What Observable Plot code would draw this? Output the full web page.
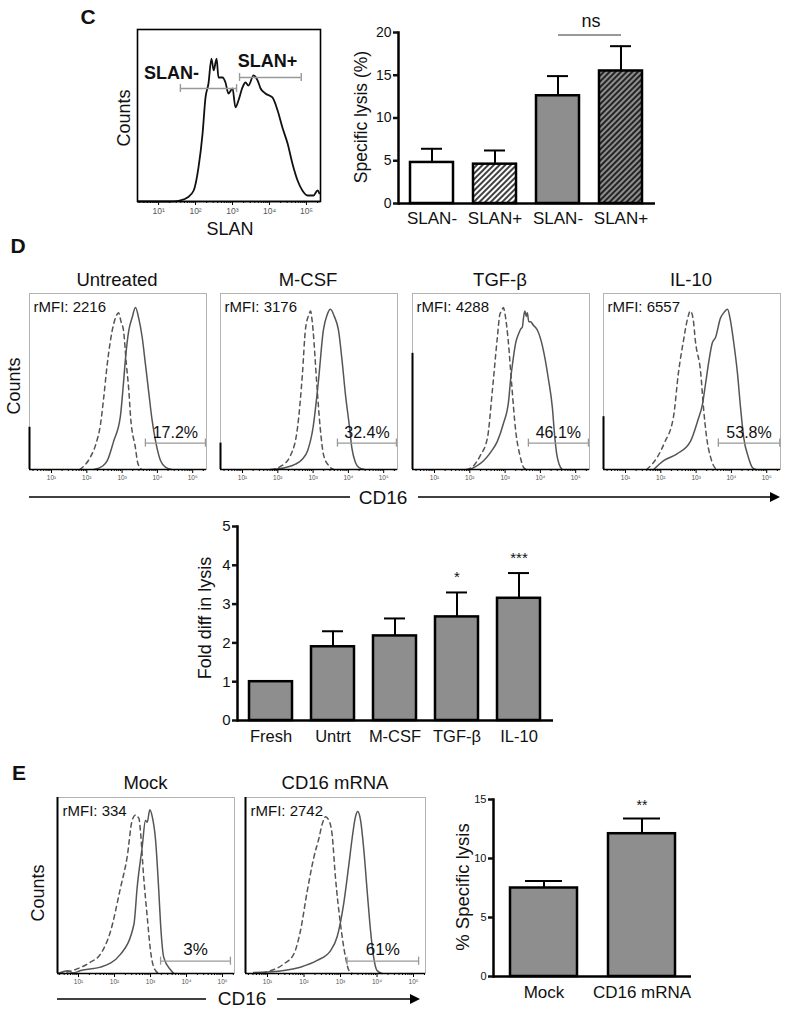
<!DOCTYPE html>
<html><head><meta charset="utf-8">
<script src="https://cdn.jsdelivr.net/npm/d3@7"></script>
<script src="https://cdn.jsdelivr.net/npm/@observablehq/plot@0.6"></script>
<style>
body{margin:0;background:#fff;font-family:"Liberation Sans",Arial,Helvetica,sans-serif;}
#fig{position:relative;width:787px;height:1017px;overflow:hidden;background:#fff;}
.abs{position:absolute;white-space:nowrap;color:#111;line-height:1;}
</style></head><body>
<svg width="0" height="0" style="position:absolute">
<defs>
<pattern id="hw" patternUnits="userSpaceOnUse" width="4" height="4" patternTransform="rotate(45)"><rect width="4" height="4" fill="#fff"/><line x1="1" y1="0" x2="1" y2="4" stroke="#000" stroke-width="1.5"/></pattern>
<pattern id="hg" patternUnits="userSpaceOnUse" width="4" height="4" patternTransform="rotate(45)"><rect width="4" height="4" fill="#8e8e8e"/><line x1="1" y1="0" x2="1" y2="4" stroke="#000" stroke-width="1.5"/></pattern>
</defs></svg>
<div id="fig"></div>
<script>
// ---------------- DATA ----------------
// Panel C: SLAN histogram (x = log10 fluorescence, y = % of max counts)
const cHist = [[0.45,0],[1.3,0],[1.5,0.2],[1.59,0.6],[1.78,2.3],[1.95,6.4],[2.08,19.8],[2.19,39.5],[2.27,60.5],[2.35,68.6],[2.43,83.1],[2.49,76.2],[2.57,83.1],[2.62,72.1],[2.73,72.1],[2.81,69.2],[2.89,62.8],[3.0,65.7],[3.08,54.7],[3.16,58.7],[3.27,66.3],[3.35,69.2],[3.43,67.4],[3.57,73.3],[3.68,70.3],[3.76,65.7],[3.89,62.8],[4.08,60.5],[4.22,52.9],[4.35,43.0],[4.49,33.7],[4.62,22.1],[4.76,12.2],[4.89,6.4],[5.03,3.5],[5.19,3.5],[5.3,6.4],[5.35,4.7]];
const cGateNames = ["SLAN-", "SLAN+"];
const cGateFrom = [1.59, 3.19];
const cGateTo = [3.11, 4.86];
const cGateLevel = [65.7, 72.1];
// Panel C: specific lysis bars
const cCats = ["SLAN-", "SLAN+", "SLAN-", "SLAN+"];
const cMean = [4.8, 4.6, 12.6, 15.5];
const cSem = [1.6, 1.6, 2.3, 2.9];
const cNsLevel = 19.7;

// Panel D: CD16 histograms
const dTitles = ["Untreated", "M-CSF", "TGF-β", "IL-10"];
const dRmfi = [2216, 3176, 4288, 6557];
const dPct = ["17.2%", "32.4%", "46.1%", "53.8%"];
const dGateFrom = [3.66, 3.69, 3.66, 3.63];
const dGateTo = [5.36, 5.36, 5.36, 5.37];
const dGateLevel = 15;
const dSpike = [24, 15, 66, 30];
const dSolid = [
  [[2.2,0],[2.45,2],[2.58,5],[2.76,16],[2.95,30],[3.03,47],[3.1,64],[3.19,79],[3.28,86],[3.38,92],[3.47,86],[3.57,75],[3.66,60],[3.76,43],[3.85,28],[3.95,16],[4.09,5],[4.25,1],[4.4,0]],
  [[1.9,0],[2.2,1],[2.5,3],[2.7,6],[2.85,11],[3.0,24],[3.15,50],[3.29,79],[3.4,88],[3.49,91],[3.6,87],[3.72,79],[3.82,62],[3.92,42],[4.02,26],[4.1,12],[4.2,4],[4.3,1],[4.45,0]],
  [[2.0,0],[2.39,5],[2.6,10],[2.78,16],[2.95,26],[3.1,39],[3.15,50],[3.21,60],[3.3,72],[3.38,77],[3.45,80],[3.49,81],[3.52,86],[3.56,90],[3.6,87],[3.63,89],[3.67,84],[3.72,84],[3.8,82],[3.92,79],[4.06,70],[4.14,62],[4.23,51],[4.34,35],[4.4,20],[4.46,9],[4.53,3],[4.62,0]],
  [[1.8,0],[2.08,5],[2.47,9],[2.84,16],[3.05,28],[3.18,37],[3.27,49],[3.35,60],[3.46,72],[3.55,75],[3.69,86],[3.78,89],[3.89,91],[3.97,85],[4.06,73],[4.17,55],[4.26,35],[4.35,18],[4.48,7],[4.6,1],[4.7,0]]
];
const dDashed = [
  [[1.8,0],[2.1,7],[2.25,14],[2.39,26],[2.48,41],[2.58,60],[2.72,79],[2.81,86],[2.9,89],[2.97,84],[3.04,79],[3.12,60],[3.19,45],[3.24,30],[3.38,12],[3.44,4],[3.55,0]],
  [[1.8,0],[2.1,2],[2.36,8],[2.56,24],[2.7,55],[2.78,79],[2.88,88],[2.93,90],[2.97,85],[3.0,79],[3.1,50],[3.2,24],[3.3,8],[3.45,2],[3.58,0]],
  [[1.9,0],[2.1,2],[2.3,8],[2.5,18],[2.64,45],[2.78,75],[2.85,88],[2.9,90],[2.95,92],[3.0,88],[3.08,75],[3.18,50],[3.3,22],[3.42,8],[3.53,1],[3.6,0]],
  [[1.6,0],[1.9,7],[2.1,15],[2.36,30],[2.5,55],[2.64,73],[2.75,85],[2.84,90],[2.92,85],[2.98,73],[3.13,55],[3.21,35],[3.3,18],[3.41,7],[3.5,2],[3.6,0]]
];
// Panel D: fold difference in lysis
const dCats = ["Fresh", "Untrt", "M-CSF", "TGF-β", "IL-10"];
const dMean = [1.0, 1.9, 2.18, 2.67, 3.15];
const dSem = [0, 0.4, 0.45, 0.63, 0.65];
const dSig = ["", "", "", "*", "***"];

// Panel E: CD16 histograms
const eTitles = ["Mock", "CD16 mRNA"];
const eRmfi = [334, 2742];
const ePct = ["3%", "61%"];
const eGateFrom = [3.28, 3.18];
const eGateTo = [5.22, 5.14];
const eGateLevel = 7;
const eSpike = [100, 100];
const eSolid = [
  [[0.44,0],[0.7,1.5],[0.85,0.3],[1.06,1.7],[1.61,3.6],[2.17,11],[2.54,28],[2.63,49],[2.77,72],[2.86,87],[2.91,86],[2.98,93],[3.05,89],[3.14,76],[3.23,47],[3.28,28],[3.37,9],[3.56,2],[3.65,0]],
  [[0.62,0.5],[1.45,1.7],[1.9,3.6],[2.36,7.4],[2.73,13],[2.91,21],[3.09,40],[3.23,62],[3.32,77],[3.41,89],[3.47,92],[3.55,87],[3.64,70],[3.73,47],[3.82,25],[3.91,9],[4.0,1.7],[4.14,0]]
];
const eDashed = [
  [[0.44,0],[0.96,2.6],[1.33,6.4],[1.61,11],[1.89,24],[2.17,49],[2.35,66],[2.49,87],[2.58,90],[2.68,88],[2.72,81],[2.81,55],[2.91,32],[3.0,13],[3.09,3.6],[3.23,0]],
  [[0.62,0],[0.99,1],[1.45,5.5],[1.72,11],[1.9,24],[2.09,47],[2.27,66],[2.41,77],[2.5,85],[2.59,89],[2.68,87],[2.77,79],[2.86,55],[3.0,28],[3.14,9],[3.23,1.7],[3.32,0]]
];
// Panel E: % specific lysis
const eCats = ["Mock", "CD16 mRNA"];
const eMean = [7.5, 12.1];
const eSem = [0.6, 1.3];
const eSig = ["", "**"];

const decades = [1, 2, 3, 4, 5];

// ---------------- HELPERS ----------------
const FONT = '"Liberation Sans", Arial, Helvetica, sans-serif';
const fig = document.getElementById("fig");
const SUP = {1: "¹", 2: "²", 3: "³", 4: "⁴", 5: "⁵"};
const minorTicks = d3.range(0, 6).flatMap(d => d3.range(2, 10).map(k => d + Math.log10(k)));

function put(node, left, top) {
  node.style.position = "absolute";
  node.style.left = left + "px";
  node.style.top = top + "px";
  fig.appendChild(node);
}
function txt(s, x, y, o = {}) {
  const d = document.createElement("div");
  d.className = "abs";
  d.textContent = s;
  d.style.left = x + "px";
  d.style.top = y + "px";
  d.style.fontSize = (o.size || 18) + "px";
  d.style.fontWeight = o.weight || "normal";
  const tx = o.anchor === "start" ? "0" : o.anchor === "end" ? "-100%" : "-50%";
  d.style.transform = `translate(${tx},-50%)` + (o.rot ? ` rotate(${o.rot}deg)` : "");
  fig.appendChild(d);
}

function histo(o) {
  const m = {l: 6, r: 6, t: 6, b: 26};
  const inDom = v => v >= o.domain[0] && v <= o.domain[1];
  const marks = [Plot.frame({stroke: o.frameStroke, strokeWidth: o.frameWidth || 1})];
  if (o.spike != null) marks.push(Plot.ruleX([o.spike], {x: () => o.domain[0], y1: 0, y2: d => d, stroke: "#000", strokeWidth: 2}));
  if (o.dashed) marks.push(Plot.line(o.dashed, {x: d => d[0], y: d => d[1], stroke: o.color, strokeWidth: 1.5, strokeDasharray: "4.5,4", curve: "monotone-x"}));
  marks.push(Plot.line(o.solid, {x: d => d[0], y: d => d[1], stroke: o.color, strokeWidth: o.lineWidth || 1.5, curve: "monotone-x"}));
  marks.push(Plot.ruleY([0], {stroke: "#000", strokeWidth: 1.4}));
  marks.push(Plot.axisX(minorTicks.filter(inDom), {tickSize: 2, tickFormat: () => "", stroke: "#000", label: null}));
  marks.push(Plot.axisX(decades.filter(inDom), {tickSize: 4, tickPadding: 2, tickFormat: d => "10" + SUP[d], fontSize: o.tickFont, fill: "#555", stroke: "#000", label: null}));
  if (o.gate) {
    const g = o.gate;
    marks.push(Plot.ruleY([g], {y: d => d.y, x1: d => d.x1, x2: d => d.x2, stroke: "#999", strokeWidth: 1.3}));
    marks.push(Plot.ruleX([g.x1, g.x2], {x: d => d, y1: g.y - 2.3, y2: g.y + 2.3, stroke: "#999", strokeWidth: 1.3}));
    if (g.label) marks.push(Plot.text([g], {x: d => (d.x1 + d.x2) / 2, y: d => d.y, text: () => g.label, dy: o.pctDy, fontSize: o.pctFont, fill: "#111"}));
  }
  if (o.rmfi != null) marks.push(Plot.text([o.rmfi], {frameAnchor: "top-left", lineAnchor: "middle", textAnchor: "start", dx: o.rmfiDx, dy: 14, text: d => "rMFI: " + d, fontSize: 15, fill: "#111"}));
  if (o.extra) marks.push(...o.extra);
  const svg = Plot.plot({
    width: o.w + m.l + m.r, height: o.h + m.t + m.b,
    marginLeft: m.l, marginRight: m.r, marginTop: m.t, marginBottom: m.b,
    x: {domain: o.domain, label: null}, y: {domain: [0, 100], axis: null, label: null},
    style: {fontFamily: FONT, background: "transparent", overflow: "visible", color: "#111"},
    marks
  });
  put(svg, o.left - m.l, o.top - m.t);
}

function bars(o) {
  const mL = 44, mR = 6, mT = 34, mB = 36;
  const w = o.x1 - o.x0, h = o.y0 - o.yTop;
  const data = o.cats.map((c, i) => ({i, mean: o.mean[i], sem: o.sem[i], sig: o.sig ? o.sig[i] : ""}));
  const errs = data.filter(d => d.sem > 0);
  const marks = [
    Plot.ruleX(errs, {x: "i", y1: "mean", y2: d => d.mean + d.sem, stroke: "#000", strokeWidth: 2}),
    Plot.tickY(errs, {x: "i", y: d => d.mean + d.sem, stroke: "#000", strokeWidth: 2, insetLeft: o.capInset, insetRight: o.capInset}),
    Plot.barY(data, {x: "i", y: "mean", fill: d => o.fills[d.i % o.fills.length], stroke: "#000", strokeWidth: 2.5}),
    Plot.text(data.filter(d => d.sig), {x: "i", y: d => d.mean + d.sem, text: "sig", dy: o.sigDy, fontSize: o.sigFont, fill: "#111"}),
    Plot.ruleY([0], {stroke: "#000", strokeWidth: 2.5}),
    Plot.frame({anchor: "left", stroke: "#000", strokeWidth: 2.5}),
    Plot.axisY({ticks: o.yTicks, tickSize: 5, tickPadding: 2, strokeWidth: 2.5, fontSize: o.tickFont, fontFamily: o.tickFamily || FONT, fill: "#111", tickFormat: d => String(d), label: null}),
    Plot.axisX({tickSize: 0, tickPadding: o.xPad, tickFormat: i => o.cats[i], fontSize: o.xFont, fill: "#111", label: null})
  ];
  if (o.extra) marks.push(...o.extra);
  const svg = Plot.plot({
    width: w + mL + mR, height: h + mT + mB,
    marginLeft: mL, marginRight: mR, marginTop: mT, marginBottom: mB,
    x: {type: "band", domain: data.map(d => d.i), paddingInner: o.pIn, paddingOuter: o.pOut, label: null},
    y: {domain: o.yDomain, label: null},
    color: {type: "identity"},
    style: {fontFamily: FONT, background: "transparent", overflow: "visible", color: "#111"},
    marks
  });
  put(svg, o.x0 - mL, o.yTop - mT);
}

// ---------------- PANEL C ----------------
txt("C", 88, 16, {size: 21, weight: "bold"});
const cGates = cGateNames.map((n, i) => ({name: n, x1: cGateFrom[i], x2: cGateTo[i], y: cGateLevel[i]}));
histo({
  left: 137, top: 29, w: 183, h: 172, domain: [0.43, 5.38],
  solid: cHist, color: "#111", lineWidth: 1.8, frameStroke: "#000", frameWidth: 1.6, tickFont: 8.5,
  extra: [
    Plot.ruleY(cGates, {y: "y", x1: "x1", x2: "x2", stroke: "#999", strokeWidth: 1.4}),
    Plot.ruleX(cGates.flatMap(g => [{x: g.x1, y: g.y}, {x: g.x2, y: g.y}]), {x: "x", y1: d => d.y - 2.3, y2: d => d.y + 2.3, stroke: "#999", strokeWidth: 1.4}),
    Plot.text(cGates.slice(0, 1), {x: "x1", y: "y", text: "name", dx: -9, dy: -15, fontSize: 18, fontWeight: "bold", fill: "#111"}),
    Plot.text(cGates.slice(1), {x: d => (d.x1 + d.x2) / 2, y: "y", text: "name", dx: -3, dy: -16, fontSize: 18, fontWeight: "bold", fill: "#111"})
  ]
});
txt("Counts", 124, 118, {size: 18, rot: -90});
txt("SLAN", 230, 229, {size: 18});

bars({
  x0: 398, x1: 655, y0: 203, yTop: 32, yDomain: [0, 20], yTicks: [0, 5, 10, 15, 20],
  cats: cCats, mean: cMean, sem: cSem, fills: ["#fff", "url(#hw)", "#8e8e8e", "url(#hg)"],
  pIn: 0.31, pOut: 0.17, capInset: 11, tickFont: 14, xFont: 17, xPad: 8,
  extra: [
    Plot.link([{a: 2, b: 3, y: cNsLevel}], {x1: "a", x2: "b", y1: "y", y2: "y", stroke: "#777", strokeWidth: 1.6}),
    Plot.text([{a: 2, y: cNsLevel}], {x: "a", y: "y", text: () => "ns", dx: 33, dy: -14, fontSize: 18, fill: "#111"})
  ]
});
txt("Specific lysis (%)", 362, 117, {size: 17.5, rot: -90});

// ---------------- PANEL D ----------------
txt("D", 18, 245, {size: 21, weight: "bold"});
const dLefts = [29, 220, 412, 603];
dTitles.forEach((t, i) => {
  const left = dLefts[i];
  txt(t, left + 88, 280, {size: 18.5});
  histo({
    left, top: 293, w: 177, h: 176, domain: [1 - 22 / 35.3, 1 + 155 / 35.3],
    solid: dSolid[i], dashed: dDashed[i], color: "#555", frameStroke: "#b3b3b3", tickFont: 6.5,
    spike: dSpike[i], rmfi: dRmfi[i], rmfiDx: 4,
    gate: {x1: dGateFrom[i], x2: dGateTo[i], y: dGateLevel, label: dPct[i]}, pctDy: -10, pctFont: 16
  });
});
txt("Counts", 14, 386, {size: 18, rot: -90});

bars({
  x0: 237, x1: 553, y0: 720, yTop: 526, yDomain: [0, 5], yTicks: [0, 1, 2, 3, 4, 5],
  cats: dCats, mean: dMean, sem: dSem, sig: dSig, fills: ["#8e8e8e"],
  pIn: 0.3, pOut: 0.17, capInset: 11, tickFont: 15, xFont: 16.5, xPad: 10, sigDy: -15, sigFont: 15
});
txt("Fold diff in lysis", 205, 618, {size: 18, rot: -90});

// ---------------- PANEL E ----------------
txt("E", 19, 772, {size: 21, weight: "bold"});
const eLefts = [57, 245];
const eWidths = [177, 180];
const eDomains = [[1 - 21 / 36, 1 + 156 / 36], [1 - 22 / 36.5, 1 + 158 / 36.5]];
eTitles.forEach((t, i) => {
  txt(t, eLefts[i] + eWidths[i] / 2, 783, {size: 18.5});
  histo({
    left: eLefts[i], top: 797, w: eWidths[i], h: 176, domain: eDomains[i],
    solid: eSolid[i], dashed: eDashed[i], color: "#555", frameStroke: "#b3b3b3", tickFont: 6.5,
    spike: eSpike[i], rmfi: eRmfi[i], rmfiDx: 5,
    gate: {x1: eGateFrom[i], x2: eGateTo[i], y: eGateLevel, label: ePct[i]}, pctDy: -12, pctFont: 17
  });
});
txt("Counts", 38, 893, {size: 18, rot: -90});

bars({
  x0: 493, x1: 691, y0: 976, yTop: 799, yDomain: [0, 15], yTicks: [0, 5, 10, 15],
  cats: eCats, mean: eMean, sem: eSem, sig: eSig, fills: ["#8e8e8e"],
  pIn: 0.32, pOut: 0.17, capInset: 15, tickFont: 11, tickFamily: '"Liberation Sans Narrow", "Liberation Sans", Arial, sans-serif',
  xFont: 17, xPad: 9, sigDy: -13, sigFont: 14
});
txt("% Specific lysis", 463, 887, {size: 18.5, rot: -90});

// ---------------- CD16 axis arrows (decoration) ----------------
const deco = d3.create("svg").attr("width", 787).attr("height", 1017).style("pointer-events", "none");
function arrowAxis(xa, xb, xc, xd, y) {
  deco.append("line").attr("x1", xa).attr("x2", xb).attr("y1", y).attr("y2", y).attr("stroke", "#000").attr("stroke-width", 1.3);
  deco.append("line").attr("x1", xc).attr("x2", xd - 6).attr("y1", y).attr("y2", y).attr("stroke", "#000").attr("stroke-width", 1.3);
  deco.append("path").attr("d", `M${xd},${y}L${xd - 10},${y - 5}L${xd - 10},${y + 5}Z`).attr("fill", "#000");
}
arrowAxis(29, 350, 418, 780, 497);
arrowAxis(57, 206, 277, 420, 999);
put(deco.node(), 0, 0);
txt("CD16", 383, 497, {size: 19});
txt("CD16", 242, 998, {size: 19});
</script></body></html>
